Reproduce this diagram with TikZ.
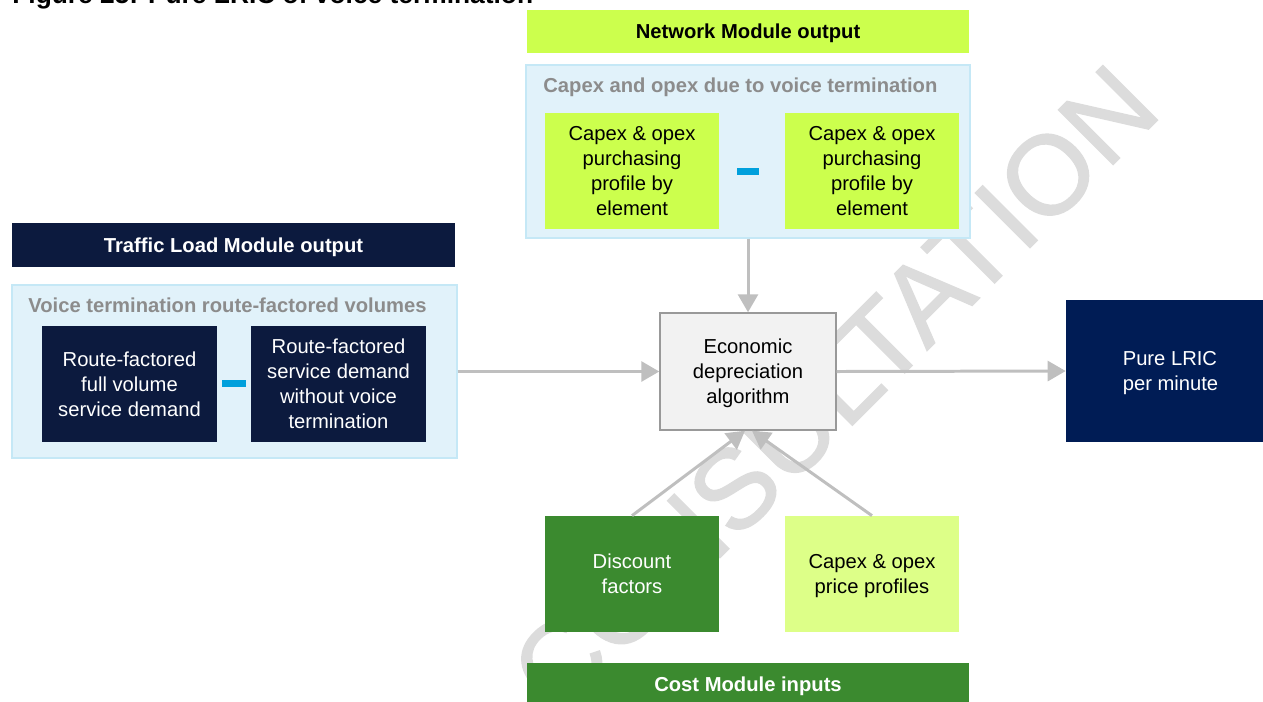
\documentclass[tikz,border=0pt]{standalone}
\usepackage{fontspec}
\setmainfont{Liberation Sans}
\newfontfamily\markfont[FakeBold=1.2]{Liberation Sans}
\usepackage{xcolor}
\usetikzlibrary{arrows.meta}

\definecolor{limeA}{HTML}{CCFF4D}
\definecolor{limeB}{HTML}{DDFF88}
\definecolor{navyA}{HTML}{0C1A3E}
\definecolor{navyB}{HTML}{001C55}
\definecolor{greenA}{HTML}{3B8A2F}
\definecolor{grpfill}{HTML}{E1F2FA}
\definecolor{grpline}{HTML}{C5E8F6}
\definecolor{minusblue}{HTML}{00A0DC}
\definecolor{flowgray}{HTML}{BFBFBF}
\definecolor{titlegray}{HTML}{8C8C8C}
\definecolor{markgray}{HTML}{DCDCDC}

\tikzset{
    txt/.style={font=\fontsize{11.5}{14.2}\selectfont},
    headbar/.style={txt, font=\fontsize{11.5}{14.2}\selectfont\bfseries, minimum width=8.84cm, minimum height=0.86cm, inner sep=0pt, text depth=0pt},
    groupbox/.style={draw=grpline, fill=grpfill, line width=0.8pt, minimum width=8.88cm, minimum height=3.46cm, inner sep=0pt},
    grouptitle/.style={anchor=base west, text=titlegray, font=\fontsize{11.5}{14.2}\selectfont\bfseries, inner sep=0pt},
    itembox/.style={txt, align=center, minimum width=3.48cm, minimum height=2.32cm, inner sep=0pt, text depth=0pt},
    minusbar/.style={fill=minusblue, minimum width=0.44cm, minimum height=0.14cm, inner sep=0pt},
    flow/.style={draw=flowgray, line width=1.7pt, -{Triangle[length=0.36cm,width=0.40cm]}},
}

\begin{document}
\begin{tikzpicture}[x=0.02cm, y=-0.02cm]
    \useasboundingbox (0,0) rectangle (1263,701);
    \clip (0,0) rectangle (1263,701);

    % watermark
    \node[text=markgray, rotate=45, font=\markfont\fontsize{64}{64}\selectfont, inner sep=0pt] (mark) at (834,389) {CONSULTATION};

    % title
    \node[anchor=base west, inner sep=0pt, font=\fontsize{15}{18}\selectfont\bfseries] (title) at (12,3) {Figure 25: Pure LRIC of voice termination};

    % network module
    \node[headbar, fill=limeA] (netbar) at (748,31.5) {Network Module output};
    \node[groupbox] (capgrp) at (748,151.5) {};
    \node[grouptitle] (capttl) at (543,92) {Capex and opex due to voice termination};
    \node[itembox, fill=limeA] (capA) at (632,171) {Capex \& opex\\purchasing\\profile by\\element};
    \node[itembox, fill=limeA] (capB) at (872,171) {Capex \& opex\\purchasing\\profile by\\element};
    \node[minusbar] (minA) at (748,171.5) {};

    % traffic load module
    \node[headbar, fill=navyA, text=white, minimum width=8.86cm, minimum height=0.88cm] (trafbar) at (233.5,245) {Traffic Load Module output};
    \node[groupbox, minimum width=8.9cm] (volgrp) at (234.5,371.5) {};
    \node[grouptitle] (volttl) at (28,312) {Voice termination route-factored volumes};
    \node[itembox, fill=navyA, text=white, minimum width=3.5cm] (volA) at (129.5,384) {Route-factored\\full volume\\service demand};
    \node[itembox, fill=navyA, text=white, minimum width=3.5cm] (volB) at (338.5,384) {Route-factored\\service demand\\without voice\\termination};
    \node[minusbar, minimum width=0.48cm] (minB) at (234,383.5) {};

    % algorithm and result
    \node[itembox, fill=black!5, draw=black!40, line width=0.85pt, minimum width=3.52cm, minimum height=2.34cm] (econ) at (748,371.5) {Economic\\depreciation\\algorithm};
    \node[itembox, align=left, fill=navyB, text=white, minimum width=3.94cm, minimum height=2.84cm] (lric) at (1164.5,371) {\hspace*{0.24cm}Pure LRIC\\\hspace*{0.24cm}per minute};

    % cost module
    \node[itembox, fill=greenA, text=white] (disc) at (632,574) {Discount\\factors};
    \node[itembox, fill=limeB] (price) at (872,574) {Capex \& opex\\price profiles};
    \node[headbar, fill=greenA, text=white] (costbar) at (748,684.5) {Cost Module inputs};

    % flows
    \draw[flow] (capgrp.south) -- (econ.north);
    \draw[flow] (volgrp.east) -- (econ.west);
    \draw[flow] (econ.east) -- (lric.west);
    \draw[flow] (disc.north) -- ([xshift=-0.06cm]econ.south);
    \draw[flow] (price.north) -- ([xshift=0.08cm]econ.south);
\end{tikzpicture}
\end{document}
